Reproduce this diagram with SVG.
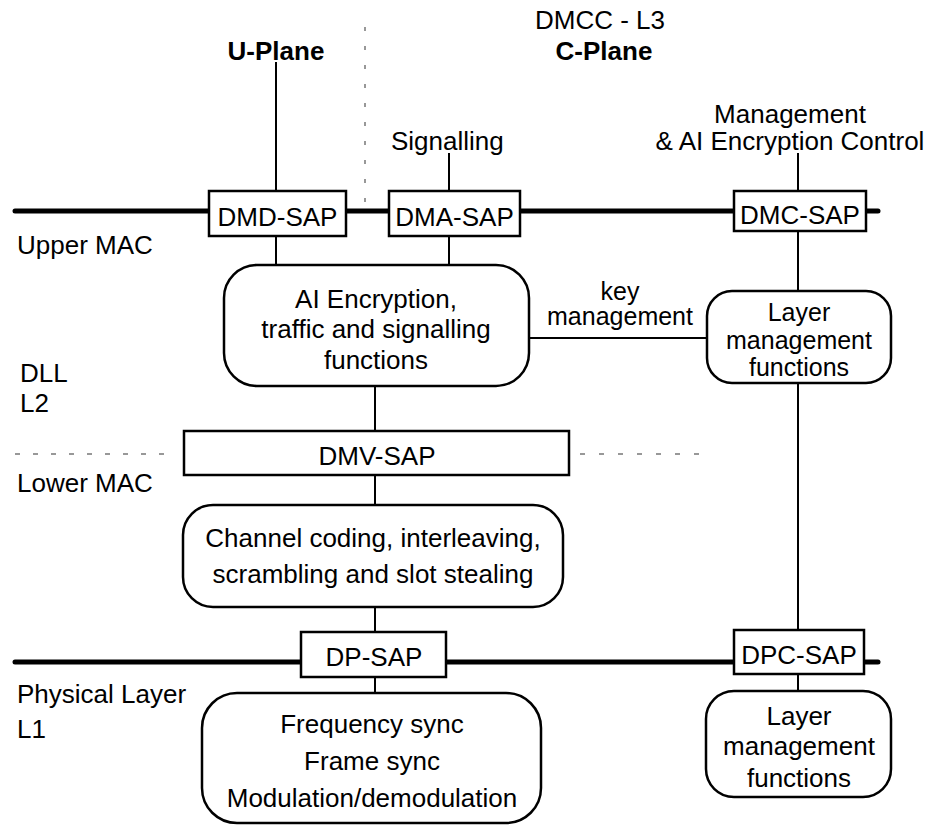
<svg xmlns="http://www.w3.org/2000/svg" width="930" height="825" viewBox="0 0 930 825">
<style>
text{font-family:"Liberation Sans",Arial,sans-serif;font-size:26px;fill:#000}
.c{text-anchor:middle}
.b{font-weight:bold}
.t{font-size:25px}
.box{fill:#fff;stroke:#000;stroke-width:2.5}
.ln{stroke:#000;stroke-width:2;fill:none}
.bus{stroke:#000;stroke-width:5;stroke-linecap:round;fill:none}
.dot{stroke:#777;stroke-width:1.5;fill:none}
</style>
<rect width="930" height="825" fill="#fff"/>
<g id="labels">
<text class="c b" x="276" y="60">U-Plane</text>
<text class="c" x="600" y="29">DMCC - L3</text>
<text class="c b" x="604" y="60">C-Plane</text>
<text x="391" y="150">Signalling</text>
<text class="c" x="790" y="123">Management</text>
<text class="c" x="790" y="150">&amp; AI Encryption Control</text>
<text x="17" y="254">Upper MAC</text>
<text x="20" y="382">DLL</text>
<text x="20" y="412">L2</text>
<text x="17" y="492">Lower MAC</text>
<text x="17" y="703">Physical Layer</text>
<text x="17" y="738">L1</text>
<text class="c t" x="620" y="300">key</text>
<text class="c t" x="620" y="325">management</text>
</g>
<g id="connectors">
<line class="dot" x1="365" y1="27" x2="365" y2="205" stroke-dasharray="4 15"/>
<line class="dot" x1="15" y1="454" x2="177" y2="454" stroke-dasharray="5 13"/>
<line class="dot" x1="580" y1="454" x2="702" y2="454" stroke-dasharray="5 14"/>
<line class="bus" x1="15" y1="211" x2="878" y2="211"/>
<line class="bus" x1="15" y1="662" x2="878" y2="662"/>
<line class="ln" x1="276" y1="62" x2="276" y2="265"/>
<line class="ln" x1="449" y1="153" x2="449" y2="265"/>
<line class="ln" x1="798" y1="153" x2="798" y2="291"/>
<line class="ln" x1="528" y1="338" x2="707" y2="338"/>
<line class="ln" x1="375" y1="386" x2="375" y2="505"/>
<line class="ln" x1="798" y1="383" x2="798" y2="691"/>
<line class="ln" x1="375" y1="607" x2="375" y2="693"/>
</g>
<g id="dmd-sap"><rect class="box" x="209" y="191" width="137" height="45"/><text class="c" x="277.5" y="226">DMD-SAP</text></g>
<g id="dma-sap"><rect class="box" x="389" y="191" width="131" height="45"/><text class="c" x="454.5" y="226">DMA-SAP</text></g>
<g id="dmc-sap"><rect class="box" x="734" y="191" width="132" height="40"/><text class="c" x="800" y="224">DMC-SAP</text></g>
<g id="ai-encryption"><rect class="box" x="224" y="265" width="305" height="121" rx="33" ry="33"/>
<text class="c" x="376" y="308">AI Encryption,</text>
<text class="c" x="376" y="338">traffic and signalling</text>
<text class="c" x="376" y="369">functions</text></g>
<g id="layer-mgmt-upper"><rect class="box" x="707" y="291" width="184" height="92" rx="25" ry="25"/>
<text class="c t" x="799" y="321">Layer</text>
<text class="c t" x="799" y="349">management</text>
<text class="c t" x="799" y="376">functions</text></g>
<g id="dmv-sap"><rect class="box" x="184" y="431" width="385" height="44"/><text class="c" x="377" y="465">DMV-SAP</text></g>
<g id="channel-coding"><rect class="box" x="183" y="505" width="380" height="102" rx="30" ry="30"/>
<text class="c" x="373" y="547">Channel coding, interleaving,</text>
<text class="c" x="373" y="583">scrambling and slot stealing</text></g>
<g id="dp-sap"><rect class="box" x="301" y="632" width="145" height="45"/><text class="c" x="374" y="666">DP-SAP</text></g>
<g id="dpc-sap"><rect class="box" x="734" y="630" width="130" height="44"/><text class="c" x="799" y="664">DPC-SAP</text></g>
<g id="physical-functions"><rect class="box" x="202" y="693" width="339" height="130" rx="35" ry="35"/>
<text class="c" x="372" y="733">Frequency sync</text>
<text class="c" x="372" y="770">Frame sync</text>
<text class="c" x="372" y="807">Modulation/demodulation</text></g>
<g id="layer-mgmt-lower"><rect class="box" x="706" y="691" width="185" height="106" rx="28" ry="28"/>
<text class="c" x="799" y="725">Layer</text>
<text class="c" x="799" y="755">management</text>
<text class="c" x="799" y="787">functions</text></g>
</svg>
